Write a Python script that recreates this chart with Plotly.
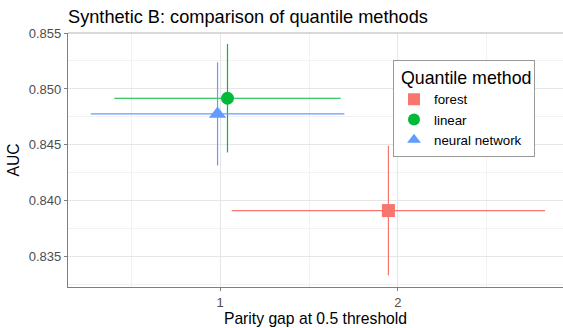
import plotly.graph_objects as go

# Quantile methods compared on Synthetic B
methods = ["forest", "linear", "neural network"]
parity_gap = [1.947, 1.041, 0.985]
parity_gap_err = [0.882, 0.637, 0.714]
auc = [0.83913, 0.84917, 0.84777]
auc_err = [0.00580, 0.00484, 0.00461]

colors = ["#F8766D", "#00BA38", "#619CFF"]
symbols = ["square", "circle", "triangle-up"]
sizes = [13, 13, 15]

FONT = "Liberation Sans, Arial, Helvetica, sans-serif"

fig = go.Figure()
for i, m in enumerate(methods):
    fig.add_trace(go.Scatter(
        x=[parity_gap[i]], y=[auc[i]], mode="markers", name=m,
        marker=dict(color=colors[i], symbol=symbols[i], size=sizes[i]),
        error_x=dict(type="data", array=[parity_gap_err[i]], width=0,
                     thickness=1.2, color=colors[i]),
        error_y=dict(type="data", array=[auc_err[i]], width=0,
                     thickness=1.2, color=colors[i]),
    ))

# top border of the panel
fig.add_shape(type="line", xref="paper", yref="paper", x0=0, x1=1, y0=1, y1=1,
              line=dict(color="#B3B3B3", width=1))

fig.update_layout(
    width=563, height=328,
    margin=dict(l=68, r=0, t=33, b=41),
    paper_bgcolor="white", plot_bgcolor="white",
    font=dict(family=FONT, color="black"),
    title=dict(text="Synthetic B: comparison of quantile methods",
               x=68/563, xanchor="left", y=1 - 17/328, yanchor="middle",
               font=dict(size=18.2, color="black")),
    showlegend=True,
    legend=dict(
        title=dict(text="&nbsp;Quantile method", font=dict(size=17.8)),
        x=(393 - 68) / 495, xanchor="left", y=(287.5 - 60) / 254.5, yanchor="top",
        bgcolor="white", bordercolor="#999999", borderwidth=1,
        font=dict(size=13.3), itemsizing="constant",
        entrywidth=112,
    ),
)

fig.update_xaxes(
    range=[0.143, 2.93], tickvals=[1, 2], ticktext=["1", "2"],
    showgrid=True, gridcolor="#E6E6E6", gridwidth=1,
    minor=dict(tickvals=[0.5, 1.5, 2.5], showgrid=True,
               gridcolor="#F2F2F2", gridwidth=1),
    showline=True, linecolor="#7F7F7F", linewidth=1.2,
    ticks="outside", ticklen=3, tickcolor="#7F7F7F",
    tickfont=dict(size=13, color="#4D4D4D"),
    zeroline=False,
    title=dict(text="Parity gap at 0.5 threshold", font=dict(size=15.7), standoff=3),
)
fig.update_yaxes(
    range=[0.8323, 0.855],
    tickvals=[0.835, 0.840, 0.845, 0.850, 0.855],
    ticktext=["0.835", "0.840", "0.845", "0.850", "0.855"],
    showgrid=True, gridcolor="#E6E6E6", gridwidth=1,
    minor=dict(tickvals=[0.8325, 0.8375, 0.8425, 0.8475, 0.8525], showgrid=True,
               gridcolor="#F2F2F2", gridwidth=1),
    showline=True, linecolor="#7F7F7F", linewidth=1.2,
    ticks="outside", ticklen=3, tickcolor="#7F7F7F",
    tickfont=dict(size=13, color="#4D4D4D"),
    zeroline=False,
    title=dict(text="AUC", font=dict(size=15.7), standoff=5),
)

fig.write_html("out.html")
